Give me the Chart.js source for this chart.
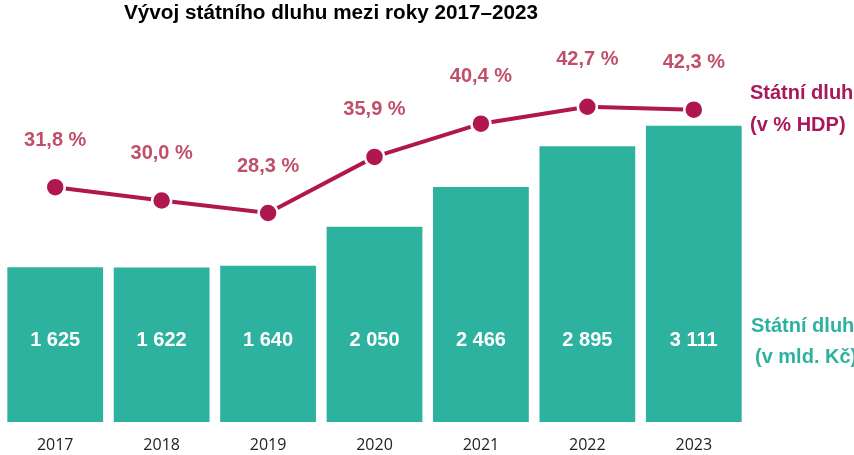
<!DOCTYPE html>
<html>
<head>
<meta charset="utf-8">
<script src="https://cdn.jsdelivr.net/npm/chart.js@4"></script>
<style>
  html, body { margin: 0; padding: 0; background: #ffffff; }
  #wrap { width: 854px; height: 455px; position: relative; }
</style>
</head>
<body>
<div id="wrap"><canvas id="c" width="854" height="455"></canvas></div>
<script>
const years = ['2017', '2018', '2019', '2020', '2021', '2022', '2023'];
const debtBn = [1625, 1622, 1640, 2050, 2466, 2895, 3111];
const debtPctGdp = [31.8, 30.0, 28.3, 35.9, 40.4, 42.7, 42.3];
const titleText = 'Vývoj státního dluhu mezi roky 2017–2023';
const pctLegend = ['Státní dluh', '(v % HDP)'];
const bnLegend = ['Státní dluh', '(v mld. Kč)'];

const TEAL = '#2eb2a0';
const MAGENTA = '#b0174f';
const ROSE = '#c0506a';
const LEGEND_MAGENTA = '#a8185a';
const BOLD = 'bold 20px "Liberation Sans", Arial, sans-serif';

function fmtThousands(v) {
  return String(v).replace(/\B(?=(\d{3})+(?!\d))/g, ' ');
}
function fmtPct(v) {
  return v.toFixed(1).replace('.', ',') + ' %';
}

const labelsPlugin = {
  id: 'labelsPlugin',
  afterDatasetsDraw(chart) {
    const ctx = chart.ctx;
    const area = chart.chartArea;
    const barMeta = chart.getDatasetMeta(0);
    const lineMeta = chart.getDatasetMeta(1);
    ctx.save();
    ctx.font = BOLD;
    ctx.textAlign = 'center';
    ctx.textBaseline = 'middle';
    const barLabelY = area.bottom - 82;
    ctx.fillStyle = '#ffffff';
    barMeta.data.forEach((bar, i) => {
      ctx.fillText(fmtThousands(debtBn[i]), bar.x, barLabelY);
    });
    ctx.fillStyle = ROSE;
    lineMeta.data.forEach((pt, i) => {
      ctx.fillText(fmtPct(debtPctGdp[i]), pt.x, pt.y - 47);
    });
    ctx.textAlign = 'left';
    const lx = area.right + 3;
    const lastPt = lineMeta.data[lineMeta.data.length - 1];
    ctx.fillStyle = LEGEND_MAGENTA;
    ctx.fillText(pctLegend[0], lx, lastPt.y - 16);
    ctx.fillText(pctLegend[1], lx, lastPt.y + 16);
    ctx.fillStyle = TEAL;
    ctx.fillText(bnLegend[0], lx + 1, barLabelY - 14);
    ctx.fillText(bnLegend[1], lx + 5, barLabelY + 17);
    ctx.fillStyle = '#000000';
    ctx.textAlign = 'center';
    ctx.font = 'bold 20.7px "Liberation Sans", Arial, sans-serif';
    ctx.fillText(titleText, 331, 13);
    ctx.restore();
  }
};

new Chart(document.getElementById('c'), {
  data: {
    labels: years,
    datasets: [
      {
        type: 'bar',
        label: 'Státní dluh (v mld. Kč)',
        data: debtBn,
        backgroundColor: TEAL,
        borderWidth: 0,
        barPercentage: 0.9,
        categoryPercentage: 1.0,
        yAxisID: 'y',
        order: 2
      },
      {
        type: 'line',
        label: 'Státní dluh (v % HDP)',
        data: debtPctGdp,
        borderColor: MAGENTA,
        backgroundColor: MAGENTA,
        borderWidth: 4,
        pointRadius: 9.5,
        pointBorderWidth: 2.5,
        pointBorderColor: '#ffffff',
        pointBackgroundColor: MAGENTA,
        tension: 0,
        yAxisID: 'y1',
        order: 1
      }
    ]
  },
  options: {
    responsive: false,
    animation: false,
    devicePixelRatio: 1,
    layout: { autoPadding: false, padding: { top: 41, left: 2, right: 107, bottom: 0 } },
    plugins: {
      legend: { display: false },
      tooltip: { enabled: false },
      title: { display: false }
    },
    scales: {
      x: {
        grid: { display: false, drawTicks: false },
        border: { display: false },
        ticks: {
          color: '#222222',
          padding: 14,
          font: { family: '"Open Sans", "Noto Sans", sans-serif', size: 16 }
        },
        afterFit(scale) {
          scale.height = 33;
          scale.paddingLeft = 0;
          scale.paddingRight = 0;
          scale.paddingTop = 0;
          scale.paddingBottom = 0;
        }
      },
      y: { display: false, min: 0, max: 4000 },
      y1: { display: false, min: 0, max: 51.6 }
    }
  },
  plugins: [labelsPlugin]
});
</script>
</body>
</html>
